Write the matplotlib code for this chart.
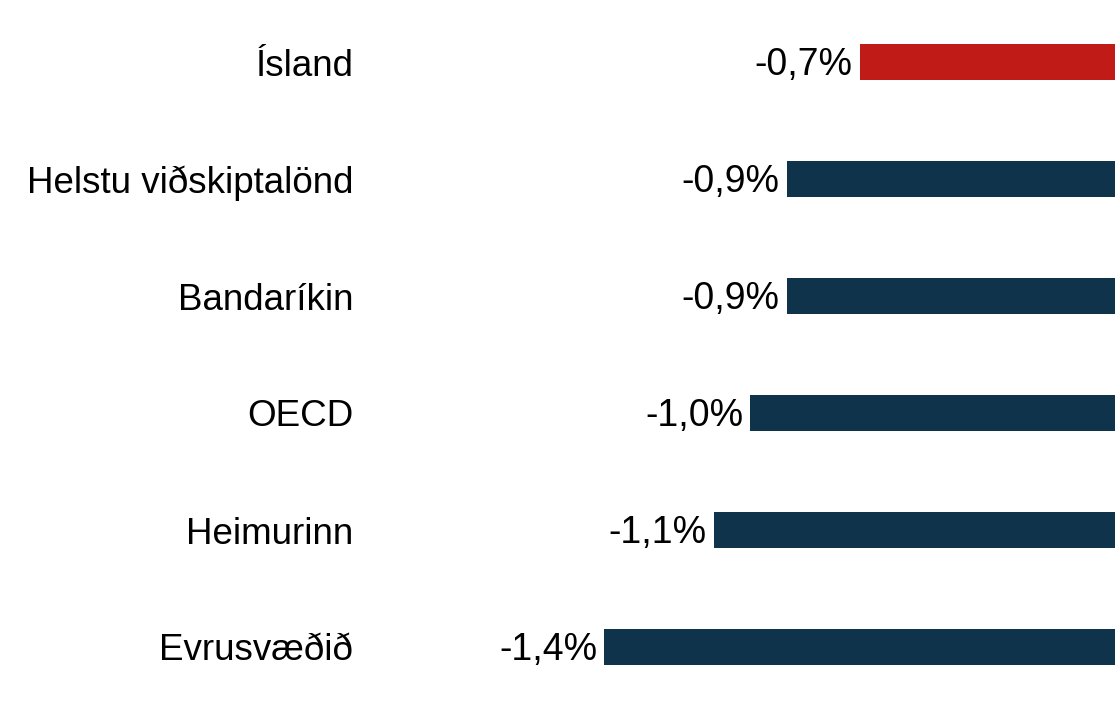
import matplotlib.pyplot as plt

lond = ['Ísland', 'Helstu viðskiptalönd', 'Bandaríkin', 'OECD', 'Heimurinn', 'Evrusvæðið']
breyting = [-0.7, -0.9, -0.9, -1.0, -1.1, -1.4]
merki = ['-0,7%', '-0,9%', '-0,9%', '-1,0%', '-1,1%', '-1,4%']
litir = ['#c01b17', '#0f334b', '#0f334b', '#0f334b', '#0f334b', '#0f334b']

plt.rcParams['font.family'] = ['Liberation Sans', 'DejaVu Sans']

fig = plt.figure(figsize=(11.15, 7.01), dpi=100)
ax = fig.add_axes([370 / 1115, 0, 745 / 1115, 1])

y = list(range(len(lond)))
ax.barh(y, breyting, height=0.31, color=litir)

for i in range(len(lond)):
    ax.annotate(merki[i], (breyting[i], i), xytext=(-5, -2), textcoords='offset points',
                ha='right', va='center', fontsize=27)

ax.set_xlim(-745 / 365, 0)
ax.set_ylim(5 + 54 / 117, -62 / 117)
ax.set_yticks(y)
ax.set_yticklabels(lond, fontsize=26.5)
ax.tick_params(axis='y', length=0, pad=12)
ax.set_xticks([])
for s in ax.spines.values():
    s.set_visible(False)

fig.savefig('out.png', dpi=100)
